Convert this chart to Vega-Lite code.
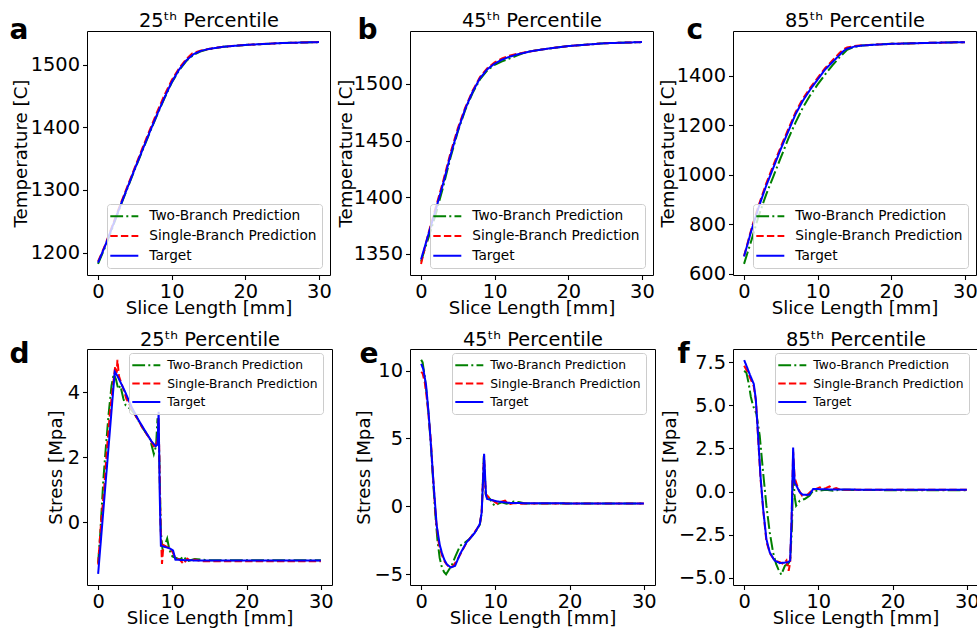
{
  "$schema": "https://vega.github.io/schema/vega-lite/v6.json",
  "background": "white",
  "padding": {"left": 8, "top": 9, "right": 0, "bottom": 0},
  "config": {
    "font": "DejaVu Sans",
    "view": {"stroke": "black", "strokeWidth": 1},
    "axis": {"labelFont": "DejaVu Sans", "labelFontSize": 19.4, "labelColor": "black", "titleFont": "DejaVu Sans", "titleFontSize": 18.2, "titleFontWeight": "normal", "titleColor": "black", "tickColor": "black", "tickSize": 4.5, "tickWidth": 1.1, "domain": false, "grid": false, "labelPadding": 3, "titlePadding": 4, "labelFlush": false, "labelOverlap": false},
    "axisLeft": {"titleBaseline": "middle"},
    "axisBottom": {"titlePadding": -1},
    "axisTop": {"labels": false, "ticks": false, "domain": false, "titleAngle": 0, "titleBaseline": "alphabetic", "titleAlign": "center", "titleFontSize": 19.4},
    "axisRight": {"labels": false, "ticks": false, "domain": false, "titleAngle": 0, "titleBaseline": "alphabetic", "titleAlign": "left", "titleFontSize": 28, "titleFontWeight": "bold"},
    "legend": {"labelFont": "DejaVu Sans", "labelColor": "black", "fillColor": "rgba(255,255,255,0.8)", "strokeColor": "#cccccc", "cornerRadius": 3, "padding": 5.3, "labelLimit": 400}
  },
  "datasets": {
    "a": [
      {"s":"Two","x":0,"y":1182},{"s":"Two","x":0.5,"y":1196},{"s":"Two","x":1,"y":1210},{"s":"Two","x":2,"y":1241},{"s":"Two","x":3,"y":1273},{"s":"Two","x":4,"y":1303},{"s":"Two","x":5,"y":1333},{"s":"Two","x":6,"y":1362},{"s":"Two","x":7,"y":1391},{"s":"Two","x":8,"y":1419},{"s":"Two","x":9,"y":1446},{"s":"Two","x":10,"y":1471},{"s":"Two","x":11,"y":1491},{"s":"Two","x":12,"y":1506},{"s":"Two","x":13,"y":1516},{"s":"Two","x":14,"y":1521.5},{"s":"Two","x":15,"y":1524.5},{"s":"Two","x":17,"y":1528.5},{"s":"Two","x":20,"y":1531.5},{"s":"Two","x":25,"y":1534.5},{"s":"Two","x":30,"y":1536},
      {"s":"Single","x":0,"y":1186},{"s":"Single","x":0.5,"y":1199},{"s":"Single","x":1,"y":1213},{"s":"Single","x":2,"y":1245},{"s":"Single","x":3,"y":1276},{"s":"Single","x":4,"y":1306},{"s":"Single","x":5,"y":1336},{"s":"Single","x":6,"y":1366},{"s":"Single","x":7,"y":1395},{"s":"Single","x":8,"y":1424},{"s":"Single","x":9,"y":1451},{"s":"Single","x":10,"y":1475},{"s":"Single","x":11,"y":1494},{"s":"Single","x":12,"y":1509},{"s":"Single","x":12.8,"y":1518},{"s":"Single","x":14,"y":1522.5},{"s":"Single","x":15,"y":1525},{"s":"Single","x":17,"y":1528.5},{"s":"Single","x":20,"y":1531.5},{"s":"Single","x":25,"y":1534.5},{"s":"Single","x":30,"y":1536},
      {"s":"Target","x":0,"y":1184},{"s":"Target","x":0.5,"y":1198},{"s":"Target","x":1,"y":1212},{"s":"Target","x":2,"y":1243},{"s":"Target","x":3,"y":1274},{"s":"Target","x":4,"y":1304},{"s":"Target","x":5,"y":1334},{"s":"Target","x":6,"y":1363},{"s":"Target","x":7,"y":1392},{"s":"Target","x":8,"y":1420},{"s":"Target","x":9,"y":1447},{"s":"Target","x":10,"y":1472},{"s":"Target","x":11,"y":1492},{"s":"Target","x":12,"y":1507},{"s":"Target","x":13,"y":1517},{"s":"Target","x":14,"y":1522},{"s":"Target","x":15,"y":1525},{"s":"Target","x":17,"y":1528.5},{"s":"Target","x":20,"y":1531.5},{"s":"Target","x":25,"y":1534.5},{"s":"Target","x":30,"y":1536}
    ],
    "b": [
      {"s":"Two","x":0,"y":1343},{"s":"Two","x":0.5,"y":1354},{"s":"Two","x":1,"y":1364},{"s":"Two","x":2,"y":1385},{"s":"Two","x":3,"y":1409},{"s":"Two","x":4,"y":1435},{"s":"Two","x":5,"y":1458},{"s":"Two","x":6,"y":1477},{"s":"Two","x":7,"y":1492},{"s":"Two","x":8,"y":1504},{"s":"Two","x":9,"y":1512},{"s":"Two","x":10,"y":1517},{"s":"Two","x":11,"y":1520},{"s":"Two","x":12,"y":1522.5},{"s":"Two","x":13,"y":1525},{"s":"Two","x":14,"y":1527.5},{"s":"Two","x":15,"y":1529},{"s":"Two","x":17,"y":1531},{"s":"Two","x":20,"y":1533.5},{"s":"Two","x":25,"y":1536},{"s":"Two","x":30,"y":1537},
      {"s":"Single","x":0,"y":1341},{"s":"Single","x":0.5,"y":1355},{"s":"Single","x":1,"y":1368},{"s":"Single","x":2,"y":1391},{"s":"Single","x":3,"y":1414},{"s":"Single","x":4,"y":1439},{"s":"Single","x":5,"y":1461},{"s":"Single","x":6,"y":1479},{"s":"Single","x":7,"y":1494},{"s":"Single","x":8,"y":1506},{"s":"Single","x":9,"y":1514},{"s":"Single","x":10,"y":1519},{"s":"Single","x":11,"y":1522.5},{"s":"Single","x":12,"y":1525},{"s":"Single","x":13,"y":1526.5},{"s":"Single","x":15,"y":1529},{"s":"Single","x":17,"y":1531},{"s":"Single","x":20,"y":1533.5},{"s":"Single","x":25,"y":1536},{"s":"Single","x":30,"y":1537},
      {"s":"Target","x":0,"y":1345},{"s":"Target","x":1,"y":1367},{"s":"Target","x":2,"y":1389},{"s":"Target","x":3,"y":1412},{"s":"Target","x":4,"y":1437},{"s":"Target","x":5,"y":1459},{"s":"Target","x":6,"y":1478},{"s":"Target","x":7,"y":1493},{"s":"Target","x":8,"y":1505},{"s":"Target","x":9,"y":1513},{"s":"Target","x":10,"y":1518},{"s":"Target","x":11,"y":1521.5},{"s":"Target","x":12,"y":1524},{"s":"Target","x":13,"y":1526},{"s":"Target","x":15,"y":1529},{"s":"Target","x":17,"y":1531},{"s":"Target","x":20,"y":1533.5},{"s":"Target","x":25,"y":1536},{"s":"Target","x":30,"y":1537}
    ],
    "c": [
      {"s":"Two","x":0,"y":640},{"s":"Two","x":0.5,"y":688},{"s":"Two","x":1,"y":735},{"s":"Two","x":2,"y":835},{"s":"Two","x":3,"y":920},{"s":"Two","x":4,"y":995},{"s":"Two","x":5,"y":1070},{"s":"Two","x":6,"y":1145},{"s":"Two","x":7,"y":1212},{"s":"Two","x":8,"y":1272},{"s":"Two","x":9,"y":1322},{"s":"Two","x":10,"y":1365},{"s":"Two","x":11,"y":1405},{"s":"Two","x":12,"y":1442},{"s":"Two","x":13,"y":1476},{"s":"Two","x":14,"y":1505},{"s":"Two","x":15,"y":1517},{"s":"Two","x":16,"y":1522},{"s":"Two","x":18,"y":1526},{"s":"Two","x":20,"y":1529},{"s":"Two","x":25,"y":1533},{"s":"Two","x":30,"y":1536},
      {"s":"Single","x":0,"y":672},{"s":"Single","x":0.5,"y":726},{"s":"Single","x":1,"y":781},{"s":"Single","x":2,"y":878},{"s":"Single","x":3,"y":964},{"s":"Single","x":4,"y":1040},{"s":"Single","x":5,"y":1114},{"s":"Single","x":6,"y":1184},{"s":"Single","x":7,"y":1253},{"s":"Single","x":8,"y":1308},{"s":"Single","x":9,"y":1352},{"s":"Single","x":10,"y":1392},{"s":"Single","x":11,"y":1431},{"s":"Single","x":12,"y":1462},{"s":"Single","x":13,"y":1493},{"s":"Single","x":13.5,"y":1507},{"s":"Single","x":14,"y":1514},{"s":"Single","x":15,"y":1520},{"s":"Single","x":16,"y":1523},{"s":"Single","x":18,"y":1526},{"s":"Single","x":20,"y":1529},{"s":"Single","x":25,"y":1533},{"s":"Single","x":30,"y":1536},
      {"s":"Target","x":0,"y":670},{"s":"Target","x":0.5,"y":722},{"s":"Target","x":1,"y":775},{"s":"Target","x":2,"y":870},{"s":"Target","x":3,"y":955},{"s":"Target","x":4,"y":1030},{"s":"Target","x":5,"y":1105},{"s":"Target","x":6,"y":1175},{"s":"Target","x":7,"y":1245},{"s":"Target","x":8,"y":1300},{"s":"Target","x":9,"y":1345},{"s":"Target","x":10,"y":1385},{"s":"Target","x":11,"y":1425},{"s":"Target","x":12,"y":1455},{"s":"Target","x":13,"y":1485},{"s":"Target","x":13.5,"y":1500},{"s":"Target","x":14,"y":1510},{"s":"Target","x":15,"y":1518},{"s":"Target","x":16,"y":1522},{"s":"Target","x":18,"y":1526},{"s":"Target","x":20,"y":1529},{"s":"Target","x":25,"y":1533},{"s":"Target","x":30,"y":1536}
    ],
    "d": [
      {"s":"Two","x":0,"y":-1.25},{"s":"Two","x":0.3,"y":-0.3},{"s":"Two","x":0.7,"y":1.3},{"s":"Two","x":1.0,"y":2.2},{"s":"Two","x":1.4,"y":3.3},{"s":"Two","x":1.8,"y":4.2},{"s":"Two","x":2.1,"y":4.56},{"s":"Two","x":2.4,"y":4.4},{"s":"Two","x":2.7,"y":4.1},{"s":"Two","x":3.0,"y":4.2},{"s":"Two","x":3.4,"y":3.8},{"s":"Two","x":3.7,"y":3.6},{"s":"Two","x":4.0,"y":3.55},{"s":"Two","x":4.5,"y":3.45},{"s":"Two","x":5.0,"y":3.3},{"s":"Two","x":6.0,"y":2.9},{"s":"Two","x":7.0,"y":2.55},{"s":"Two","x":7.5,"y":2.1},{"s":"Two","x":7.8,"y":2.35},{"s":"Two","x":8.0,"y":3.2},{"s":"Two","x":8.2,"y":2.4},{"s":"Two","x":8.45,"y":-0.3},{"s":"Two","x":8.7,"y":-0.9},{"s":"Two","x":9.0,"y":-0.7},{"s":"Two","x":9.3,"y":-0.5},{"s":"Two","x":9.6,"y":-0.85},{"s":"Two","x":10.0,"y":-1.05},{"s":"Two","x":10.5,"y":-1.1},{"s":"Two","x":11.0,"y":-1.15},{"s":"Two","x":11.5,"y":-1.05},{"s":"Two","x":12.0,"y":-1.2},{"s":"Two","x":13,"y":-1.13},{"s":"Two","x":15,"y":-1.17},{"s":"Two","x":20,"y":-1.17},{"s":"Two","x":30,"y":-1.17},
      {"s":"Single","x":0,"y":-1.3},{"s":"Single","x":0.4,"y":0.0},{"s":"Single","x":0.8,"y":1.0},{"s":"Single","x":1.2,"y":2.3},{"s":"Single","x":1.6,"y":3.4},{"s":"Single","x":2.0,"y":4.2},{"s":"Single","x":2.3,"y":4.8},{"s":"Single","x":2.5,"y":4.6},{"s":"Single","x":2.6,"y":5.0},{"s":"Single","x":2.8,"y":4.5},{"s":"Single","x":3.1,"y":4.3},{"s":"Single","x":3.4,"y":4.1},{"s":"Single","x":3.8,"y":3.8},{"s":"Single","x":4.3,"y":3.6},{"s":"Single","x":5.0,"y":3.3},{"s":"Single","x":6.0,"y":2.9},{"s":"Single","x":7.0,"y":2.55},{"s":"Single","x":7.6,"y":2.3},{"s":"Single","x":8.0,"y":2.5},{"s":"Single","x":8.15,"y":3.2},{"s":"Single","x":8.4,"y":0.0},{"s":"Single","x":8.6,"y":-1.28},{"s":"Single","x":8.8,"y":-0.7},{"s":"Single","x":9.2,"y":-0.75},{"s":"Single","x":9.6,"y":-0.8},{"s":"Single","x":10.0,"y":-0.9},{"s":"Single","x":10.4,"y":-1.1},{"s":"Single","x":11.0,"y":-1.15},{"s":"Single","x":11.5,"y":-1.28},{"s":"Single","x":12.0,"y":-1.12},{"s":"Single","x":12.5,"y":-1.2},{"s":"Single","x":13.0,"y":-1.15},{"s":"Single","x":14,"y":-1.2},{"s":"Single","x":20,"y":-1.2},{"s":"Single","x":30,"y":-1.2},
      {"s":"Target","x":0,"y":-1.59},{"s":"Target","x":0.5,"y":-0.2},{"s":"Target","x":1.0,"y":1.19},{"s":"Target","x":1.5,"y":2.58},{"s":"Target","x":2.0,"y":3.97},{"s":"Target","x":2.24,"y":4.63},{"s":"Target","x":2.6,"y":4.5},{"s":"Target","x":3.6,"y":4.03},{"s":"Target","x":4.5,"y":3.55},{"s":"Target","x":5.4,"y":3.16},{"s":"Target","x":6.3,"y":2.82},{"s":"Target","x":7.2,"y":2.49},{"s":"Target","x":7.76,"y":2.34},{"s":"Target","x":8.0,"y":2.39},{"s":"Target","x":8.15,"y":3.4},{"s":"Target","x":8.3,"y":0.8},{"s":"Target","x":8.45,"y":-0.72},{"s":"Target","x":9.0,"y":-0.76},{"s":"Target","x":9.6,"y":-0.8},{"s":"Target","x":10.1,"y":-0.87},{"s":"Target","x":10.4,"y":-1.15},{"s":"Target","x":12,"y":-1.17},{"s":"Target","x":15,"y":-1.18},{"s":"Target","x":20,"y":-1.18},{"s":"Target","x":30,"y":-1.18}
    ],
    "e": [
      {"s":"Two","x":0.0,"y":10.8},{"s":"Two","x":0.2,"y":10.6},{"s":"Two","x":0.5,"y":9.5},{"s":"Two","x":0.8,"y":8.0},{"s":"Two","x":1.0,"y":6.8},{"s":"Two","x":1.3,"y":4.6},{"s":"Two","x":1.6,"y":2.0},{"s":"Two","x":1.9,"y":-0.5},{"s":"Two","x":2.2,"y":-2.5},{"s":"Two","x":2.5,"y":-3.8},{"s":"Two","x":2.8,"y":-4.5},{"s":"Two","x":3.1,"y":-4.85},{"s":"Two","x":3.36,"y":-5.0},{"s":"Two","x":3.7,"y":-4.7},{"s":"Two","x":4.1,"y":-4.38},{"s":"Two","x":4.6,"y":-3.7},{"s":"Two","x":5.25,"y":-2.9},{"s":"Two","x":5.9,"y":-2.66},{"s":"Two","x":6.5,"y":-2.4},{"s":"Two","x":7.3,"y":-1.9},{"s":"Two","x":7.9,"y":-1.35},{"s":"Two","x":8.15,"y":-0.5},{"s":"Two","x":8.45,"y":3.7},{"s":"Two","x":8.7,"y":0.9},{"s":"Two","x":9.0,"y":0.7},{"s":"Two","x":9.3,"y":0.54},{"s":"Two","x":9.6,"y":0.2},{"s":"Two","x":9.95,"y":0.05},{"s":"Two","x":10.4,"y":0.2},{"s":"Two","x":10.85,"y":0.3},{"s":"Two","x":11.5,"y":0.2},{"s":"Two","x":12.5,"y":0.35},{"s":"Two","x":13.3,"y":0.3},{"s":"Two","x":14,"y":0.22},{"s":"Two","x":20,"y":0.22},{"s":"Two","x":30,"y":0.22},
      {"s":"Single","x":0.0,"y":9.9},{"s":"Single","x":0.2,"y":9.8},{"s":"Single","x":0.5,"y":9.1},{"s":"Single","x":0.8,"y":7.8},{"s":"Single","x":1.0,"y":6.7},{"s":"Single","x":1.3,"y":4.9},{"s":"Single","x":1.6,"y":2.2},{"s":"Single","x":2.0,"y":-1.0},{"s":"Single","x":2.4,"y":-2.8},{"s":"Single","x":2.8,"y":-3.6},{"s":"Single","x":3.2,"y":-4.1},{"s":"Single","x":3.8,"y":-4.5},{"s":"Single","x":4.3,"y":-4.4},{"s":"Single","x":4.8,"y":-4.0},{"s":"Single","x":5.4,"y":-3.4},{"s":"Single","x":6.1,"y":-2.7},{"s":"Single","x":7.2,"y":-1.9},{"s":"Single","x":7.9,"y":-1.35},{"s":"Single","x":8.15,"y":-0.4},{"s":"Single","x":8.47,"y":3.8},{"s":"Single","x":8.7,"y":0.9},{"s":"Single","x":8.9,"y":0.79},{"s":"Single","x":9.3,"y":0.55},{"s":"Single","x":9.7,"y":0.42},{"s":"Single","x":10.0,"y":0.3},{"s":"Single","x":10.4,"y":0.17},{"s":"Single","x":10.8,"y":0.35},{"s":"Single","x":11.3,"y":0.42},{"s":"Single","x":11.7,"y":0.2},{"s":"Single","x":12.0,"y":0.17},{"s":"Single","x":12.5,"y":0.25},{"s":"Single","x":13.5,"y":0.2},{"s":"Single","x":14,"y":0.22},{"s":"Single","x":20,"y":0.22},{"s":"Single","x":30,"y":0.22},
      {"s":"Target","x":0.0,"y":10.5},{"s":"Target","x":0.3,"y":10.1},{"s":"Target","x":0.67,"y":8.9},{"s":"Target","x":1.0,"y":6.9},{"s":"Target","x":1.2,"y":5.47},{"s":"Target","x":1.66,"y":1.77},{"s":"Target","x":2.1,"y":-1.43},{"s":"Target","x":2.5,"y":-2.8},{"s":"Target","x":2.78,"y":-3.4},{"s":"Target","x":3.1,"y":-3.9},{"s":"Target","x":3.45,"y":-4.26},{"s":"Target","x":4.0,"y":-4.5},{"s":"Target","x":4.57,"y":-4.38},{"s":"Target","x":5.25,"y":-3.5},{"s":"Target","x":6.1,"y":-2.66},{"s":"Target","x":7.26,"y":-1.92},{"s":"Target","x":7.9,"y":-1.3},{"s":"Target","x":8.16,"y":-0.44},{"s":"Target","x":8.48,"y":3.87},{"s":"Target","x":8.74,"y":0.79},{"s":"Target","x":8.9,"y":0.54},{"s":"Target","x":10.2,"y":0.37},{"s":"Target","x":12,"y":0.25},{"s":"Target","x":15,"y":0.23},{"s":"Target","x":20,"y":0.22},{"s":"Target","x":30,"y":0.22}
    ],
    "f": [
      {"s":"Two","x":0.0,"y":7.0},{"s":"Two","x":0.3,"y":6.9},{"s":"Two","x":0.6,"y":6.3},{"s":"Two","x":0.9,"y":5.5},{"s":"Two","x":1.2,"y":4.98},{"s":"Two","x":1.66,"y":4.5},{"s":"Two","x":2.1,"y":3.24},{"s":"Two","x":2.56,"y":1.1},{"s":"Two","x":3.0,"y":-0.82},{"s":"Two","x":3.45,"y":-2.37},{"s":"Two","x":3.9,"y":-3.53},{"s":"Two","x":4.3,"y":-4.2},{"s":"Two","x":4.6,"y":-4.5},{"s":"Two","x":5.0,"y":-4.82},{"s":"Two","x":5.5,"y":-4.3},{"s":"Two","x":5.9,"y":-4.2},{"s":"Two","x":6.2,"y":-4.0},{"s":"Two","x":6.45,"y":-2.0},{"s":"Two","x":6.6,"y":1.2},{"s":"Two","x":6.8,"y":-0.3},{"s":"Two","x":7.0,"y":-0.82},{"s":"Two","x":7.5,"y":-0.53},{"s":"Two","x":8.15,"y":-0.43},{"s":"Two","x":8.8,"y":-0.24},{"s":"Two","x":9.3,"y":0.05},{"s":"Two","x":10,"y":0.05},{"s":"Two","x":11,"y":0.1},{"s":"Two","x":12,"y":0.05},{"s":"Two","x":13,"y":0.1},{"s":"Two","x":20,"y":0.08},{"s":"Two","x":30,"y":0.08},
      {"s":"Single","x":0.0,"y":7.3},{"s":"Single","x":0.4,"y":7.0},{"s":"Single","x":0.8,"y":6.6},{"s":"Single","x":1.3,"y":6.1},{"s":"Single","x":1.6,"y":5.2},{"s":"Single","x":1.9,"y":3.0},{"s":"Single","x":2.2,"y":0.8},{"s":"Single","x":2.6,"y":-1.2},{"s":"Single","x":3.0,"y":-2.9},{"s":"Single","x":3.5,"y":-3.6},{"s":"Single","x":4.1,"y":-4.0},{"s":"Single","x":4.8,"y":-4.1},{"s":"Single","x":5.3,"y":-4.2},{"s":"Single","x":5.7,"y":-4.0},{"s":"Single","x":6.0,"y":-4.6},{"s":"Single","x":6.2,"y":-4.1},{"s":"Single","x":6.4,"y":-1.5},{"s":"Single","x":6.6,"y":2.3},{"s":"Single","x":6.8,"y":0.8},{"s":"Single","x":7.1,"y":0.4},{"s":"Single","x":7.3,"y":0.15},{"s":"Single","x":7.8,"y":-0.24},{"s":"Single","x":8.5,"y":-0.2},{"s":"Single","x":9.2,"y":0.1},{"s":"Single","x":9.7,"y":0.15},{"s":"Single","x":10.2,"y":0.24},{"s":"Single","x":10.6,"y":0.15},{"s":"Single","x":11.0,"y":0.2},{"s":"Single","x":11.5,"y":0.3},{"s":"Single","x":12,"y":0.15},{"s":"Single","x":12.4,"y":0.2},{"s":"Single","x":13.0,"y":0.1},{"s":"Single","x":20,"y":0.1},{"s":"Single","x":30,"y":0.1},
      {"s":"Target","x":0.0,"y":7.63},{"s":"Target","x":0.4,"y":7.2},{"s":"Target","x":0.76,"y":6.8},{"s":"Target","x":1.3,"y":6.24},{"s":"Target","x":1.57,"y":5.37},{"s":"Target","x":1.88,"y":3.24},{"s":"Target","x":2.2,"y":0.92},{"s":"Target","x":2.56,"y":-1.0},{"s":"Target","x":3.0,"y":-2.76},{"s":"Target","x":3.45,"y":-3.53},{"s":"Target","x":4.1,"y":-4.0},{"s":"Target","x":4.8,"y":-4.15},{"s":"Target","x":5.9,"y":-4.1},{"s":"Target","x":6.2,"y":-4.0},{"s":"Target","x":6.4,"y":-1.5},{"s":"Target","x":6.6,"y":2.56},{"s":"Target","x":6.8,"y":0.53},{"s":"Target","x":7.04,"y":0.34},{"s":"Target","x":7.5,"y":-0.05},{"s":"Target","x":7.9,"y":-0.18},{"s":"Target","x":8.8,"y":-0.18},{"s":"Target","x":9.15,"y":0.05},{"s":"Target","x":9.3,"y":0.15},{"s":"Target","x":12,"y":0.12},{"s":"Target","x":20,"y":0.1},{"s":"Target","x":30,"y":0.1}
    ]
  },
  "columns": 3,
  "spacing": {"row": 74, "column": 78},
  "bounds": "flush",
  "resolve": {"scale": {"x": "independent", "y": "independent", "color": "independent", "strokeDash": "independent"}, "legend": {"color": "independent", "strokeDash": "independent"}},
  "concat": [
    {
      "width": 243, "height": 244,
      "data": {"name": "a"},
      "layer": [
        {"mark": {"type": "line", "strokeWidth": 2, "clip": true},
         "encoding": {
           "x": {"field": "x", "type": "quantitative", "scale": {"domain": [-1.5, 31.5], "nice": false, "zero": false}, "axis": {"values": [0, 10, 20, 30], "title": "Slice Length [mm]"}},
           "y": {"field": "y", "type": "quantitative", "scale": {"domain": [1164.3, 1553.7], "nice": false, "zero": false}, "axis": {"values": [1200, 1300, 1400, 1500], "format": "d", "title": "Temperature [C]", "titleX": -66}},
           "color": {"field": "s", "type": "nominal", "scale": {"domain": ["Two", "Single", "Target"], "range": ["#008000", "#ff0000", "#0000ff"]}, "legend": {"title": null, "orient": "none", "legendX": 20, "legendY": 173, "labelFontSize": 13.7, "labelOffset": 23, "rowPadding": 5.7, "symbolType": "M-1.5,0H3.17", "symbolSize": 144, "symbolStrokeWidth": 2, "labelExpr": "datum.value == 'Two' ? 'Two-Branch Prediction' : datum.value == 'Single' ? 'Single-Branch Prediction' : 'Target'"}},
           "strokeDash": {"field": "s", "type": "nominal", "scale": {"domain": ["Two", "Single", "Target"], "range": [[12.8, 3.2, 2, 3.2], [7.4, 3.2], [1, 0]]}, "legend": {"title": null, "orient": "none", "legendX": 20, "legendY": 173, "labelFontSize": 13.7, "labelOffset": 23, "rowPadding": 5.7, "symbolType": "M-1.5,0H3.17", "symbolSize": 144, "symbolStrokeWidth": 2, "labelExpr": "datum.value == 'Two' ? 'Two-Branch Prediction' : datum.value == 'Single' ? 'Single-Branch Prediction' : 'Target'"}}
         }},
        {"mark": {"type": "point", "opacity": 0},
         "encoding": {
           "x": {"field": "x", "type": "quantitative", "axis": {"orient": "top", "title": "25ᵗʰ Percentile", "titleX": 121.5, "titleY": -5}},
           "y": {"field": "y", "type": "quantitative", "axis": {"orient": "right", "title": "a", "titleX": -321, "titleY": 7}}
         }}
      ],
      "resolve": {"axis": {"x": "independent", "y": "independent"}}
    },
    {
      "width": 243, "height": 244,
      "data": {"name": "b"},
      "layer": [
        {"mark": {"type": "line", "strokeWidth": 2, "clip": true},
         "encoding": {
           "x": {"field": "x", "type": "quantitative", "scale": {"domain": [-1.5, 31.5], "nice": false, "zero": false}, "axis": {"values": [0, 10, 20, 30], "title": "Slice Length [mm]"}},
           "y": {"field": "y", "type": "quantitative", "scale": {"domain": [1331.2, 1546.8], "nice": false, "zero": false}, "axis": {"values": [1350, 1400, 1450, 1500], "format": "d", "title": "Temperature [C]", "titleX": -64}},
           "color": {"field": "s", "type": "nominal", "scale": {"domain": ["Two", "Single", "Target"], "range": ["#008000", "#ff0000", "#0000ff"]}, "legend": {"title": null, "orient": "none", "legendX": 20, "legendY": 173, "labelFontSize": 13.7, "labelOffset": 23, "rowPadding": 5.7, "symbolType": "M-1.5,0H3.17", "symbolSize": 144, "symbolStrokeWidth": 2, "labelExpr": "datum.value == 'Two' ? 'Two-Branch Prediction' : datum.value == 'Single' ? 'Single-Branch Prediction' : 'Target'"}},
           "strokeDash": {"field": "s", "type": "nominal", "scale": {"domain": ["Two", "Single", "Target"], "range": [[12.8, 3.2, 2, 3.2], [7.4, 3.2], [1, 0]]}, "legend": {"title": null, "orient": "none", "legendX": 20, "legendY": 173, "labelFontSize": 13.7, "labelOffset": 23, "rowPadding": 5.7, "symbolType": "M-1.5,0H3.17", "symbolSize": 144, "symbolStrokeWidth": 2, "labelExpr": "datum.value == 'Two' ? 'Two-Branch Prediction' : datum.value == 'Single' ? 'Single-Branch Prediction' : 'Target'"}}
         }},
        {"mark": {"type": "point", "opacity": 0},
         "encoding": {
           "x": {"field": "x", "type": "quantitative", "axis": {"orient": "top", "title": "45ᵗʰ Percentile", "titleX": 121.5, "titleY": -5}},
           "y": {"field": "y", "type": "quantitative", "axis": {"orient": "right", "title": "b", "titleX": -296, "titleY": 7}}
         }}
      ],
      "resolve": {"axis": {"x": "independent", "y": "independent"}}
    },
    {
      "width": 243, "height": 244,
      "data": {"name": "c"},
      "layer": [
        {"mark": {"type": "line", "strokeWidth": 2, "clip": true},
         "encoding": {
           "x": {"field": "x", "type": "quantitative", "scale": {"domain": [-1.5, 31.5], "nice": false, "zero": false}, "axis": {"values": [0, 10, 20, 30], "title": "Slice Length [mm]"}},
           "y": {"field": "y", "type": "quantitative", "scale": {"domain": [595, 1581], "nice": false, "zero": false}, "axis": {"values": [600, 800, 1000, 1200, 1400], "format": "d", "title": "Temperature [C]", "titleX": -64.5}},
           "color": {"field": "s", "type": "nominal", "scale": {"domain": ["Two", "Single", "Target"], "range": ["#008000", "#ff0000", "#0000ff"]}, "legend": {"title": null, "orient": "none", "legendX": 20, "legendY": 173, "labelFontSize": 13.7, "labelOffset": 23, "rowPadding": 5.7, "symbolType": "M-1.5,0H3.17", "symbolSize": 144, "symbolStrokeWidth": 2, "labelExpr": "datum.value == 'Two' ? 'Two-Branch Prediction' : datum.value == 'Single' ? 'Single-Branch Prediction' : 'Target'"}},
           "strokeDash": {"field": "s", "type": "nominal", "scale": {"domain": ["Two", "Single", "Target"], "range": [[12.8, 3.2, 2, 3.2], [7.4, 3.2], [1, 0]]}, "legend": {"title": null, "orient": "none", "legendX": 20, "legendY": 173, "labelFontSize": 13.7, "labelOffset": 23, "rowPadding": 5.7, "symbolType": "M-1.5,0H3.17", "symbolSize": 144, "symbolStrokeWidth": 2, "labelExpr": "datum.value == 'Two' ? 'Two-Branch Prediction' : datum.value == 'Single' ? 'Single-Branch Prediction' : 'Target'"}}
         }},
        {"mark": {"type": "point", "opacity": 0},
         "encoding": {
           "x": {"field": "x", "type": "quantitative", "axis": {"orient": "top", "title": "85ᵗʰ Percentile", "titleX": 121.5, "titleY": -5}},
           "y": {"field": "y", "type": "quantitative", "axis": {"orient": "right", "title": "c", "titleX": -290, "titleY": 7}}
         }}
      ],
      "resolve": {"axis": {"x": "independent", "y": "independent"}}
    },
    {
      "width": 245, "height": 236,
      "data": {"name": "d"},
      "layer": [
        {"mark": {"type": "line", "strokeWidth": 2, "clip": true},
         "encoding": {
           "x": {"field": "x", "type": "quantitative", "scale": {"domain": [-1.5, 31.5], "nice": false, "zero": false}, "axis": {"values": [0, 10, 20, 30], "title": "Slice Length [mm]"}},
           "y": {"field": "y", "type": "quantitative", "scale": {"domain": [-1.93, 5.33], "nice": false, "zero": false}, "axis": {"values": [0, 2, 4], "title": "Stress [Mpa]", "titleX": -30.5}},
           "color": {"field": "s", "type": "nominal", "scale": {"domain": ["Two", "Single", "Target"], "range": ["#008000", "#ff0000", "#0000ff"]}, "legend": {"title": null, "orient": "none", "legendX": 42, "legendY": 4, "labelFontSize": 12.3, "labelOffset": 19, "rowPadding": 4.3, "symbolType": "M-1.5,0H3.17", "symbolSize": 144, "symbolStrokeWidth": 2, "labelExpr": "datum.value == 'Two' ? 'Two-Branch Prediction' : datum.value == 'Single' ? 'Single-Branch Prediction' : 'Target'"}},
           "strokeDash": {"field": "s", "type": "nominal", "scale": {"domain": ["Two", "Single", "Target"], "range": [[12.8, 3.2, 2, 3.2], [7.4, 3.2], [1, 0]]}, "legend": {"title": null, "orient": "none", "legendX": 42, "legendY": 4, "labelFontSize": 12.3, "labelOffset": 19, "rowPadding": 4.3, "symbolType": "M-1.5,0H3.17", "symbolSize": 144, "symbolStrokeWidth": 2, "labelExpr": "datum.value == 'Two' ? 'Two-Branch Prediction' : datum.value == 'Single' ? 'Single-Branch Prediction' : 'Target'"}}
         }},
        {"mark": {"type": "point", "opacity": 0},
         "encoding": {
           "x": {"field": "x", "type": "quantitative", "axis": {"orient": "top", "title": "25ᵗʰ Percentile", "titleX": 122.5, "titleY": -4}},
           "y": {"field": "y", "type": "quantitative", "axis": {"orient": "right", "title": "d", "titleX": -323, "titleY": 13}}
         }}
      ],
      "resolve": {"axis": {"x": "independent", "y": "independent"}}
    },
    {
      "width": 245, "height": 236,
      "data": {"name": "e"},
      "layer": [
        {"mark": {"type": "line", "strokeWidth": 2, "clip": true},
         "encoding": {
           "x": {"field": "x", "type": "quantitative", "scale": {"domain": [-1.5, 31.5], "nice": false, "zero": false}, "axis": {"values": [0, 10, 20, 30], "title": "Slice Length [mm]"}},
           "y": {"field": "y", "type": "quantitative", "scale": {"domain": [-5.79, 11.59], "nice": false, "zero": false}, "axis": {"values": [-5, 0, 5, 10], "title": "Stress [Mpa]", "titleX": -45.5}},
           "color": {"field": "s", "type": "nominal", "scale": {"domain": ["Two", "Single", "Target"], "range": ["#008000", "#ff0000", "#0000ff"]}, "legend": {"title": null, "orient": "none", "legendX": 42, "legendY": 4, "labelFontSize": 12.3, "labelOffset": 19, "rowPadding": 4.3, "symbolType": "M-1.5,0H3.17", "symbolSize": 144, "symbolStrokeWidth": 2, "labelExpr": "datum.value == 'Two' ? 'Two-Branch Prediction' : datum.value == 'Single' ? 'Single-Branch Prediction' : 'Target'"}},
           "strokeDash": {"field": "s", "type": "nominal", "scale": {"domain": ["Two", "Single", "Target"], "range": [[12.8, 3.2, 2, 3.2], [7.4, 3.2], [1, 0]]}, "legend": {"title": null, "orient": "none", "legendX": 42, "legendY": 4, "labelFontSize": 12.3, "labelOffset": 19, "rowPadding": 4.3, "symbolType": "M-1.5,0H3.17", "symbolSize": 144, "symbolStrokeWidth": 2, "labelExpr": "datum.value == 'Two' ? 'Two-Branch Prediction' : datum.value == 'Single' ? 'Single-Branch Prediction' : 'Target'"}}
         }},
        {"mark": {"type": "point", "opacity": 0},
         "encoding": {
           "x": {"field": "x", "type": "quantitative", "axis": {"orient": "top", "title": "45ᵗʰ Percentile", "titleX": 122.5, "titleY": -4}},
           "y": {"field": "y", "type": "quantitative", "axis": {"orient": "right", "title": "e", "titleX": -296, "titleY": 13}}
         }}
      ],
      "resolve": {"axis": {"x": "independent", "y": "independent"}}
    },
    {
      "width": 245, "height": 236,
      "data": {"name": "f"},
      "layer": [
        {"mark": {"type": "line", "strokeWidth": 2, "clip": true},
         "encoding": {
           "x": {"field": "x", "type": "quantitative", "scale": {"domain": [-1.5, 31.5], "nice": false, "zero": false}, "axis": {"values": [0, 10, 20, 30], "title": "Slice Length [mm]"}},
           "y": {"field": "y", "type": "quantitative", "scale": {"domain": [-5.42, 8.27], "nice": false, "zero": false}, "axis": {"values": [-5, -2.5, 0, 2.5, 5, 7.5], "format": ".1f", "title": "Stress [Mpa]", "titleX": -62.5}},
           "color": {"field": "s", "type": "nominal", "scale": {"domain": ["Two", "Single", "Target"], "range": ["#008000", "#ff0000", "#0000ff"]}, "legend": {"title": null, "orient": "none", "legendX": 42, "legendY": 4, "labelFontSize": 12.3, "labelOffset": 19, "rowPadding": 4.3, "symbolType": "M-1.5,0H3.17", "symbolSize": 144, "symbolStrokeWidth": 2, "labelExpr": "datum.value == 'Two' ? 'Two-Branch Prediction' : datum.value == 'Single' ? 'Single-Branch Prediction' : 'Target'"}},
           "strokeDash": {"field": "s", "type": "nominal", "scale": {"domain": ["Two", "Single", "Target"], "range": [[12.8, 3.2, 2, 3.2], [7.4, 3.2], [1, 0]]}, "legend": {"title": null, "orient": "none", "legendX": 42, "legendY": 4, "labelFontSize": 12.3, "labelOffset": 19, "rowPadding": 4.3, "symbolType": "M-1.5,0H3.17", "symbolSize": 144, "symbolStrokeWidth": 2, "labelExpr": "datum.value == 'Two' ? 'Two-Branch Prediction' : datum.value == 'Single' ? 'Single-Branch Prediction' : 'Target'"}}
         }},
        {"mark": {"type": "point", "opacity": 0},
         "encoding": {
           "x": {"field": "x", "type": "quantitative", "axis": {"orient": "top", "title": "85ᵗʰ Percentile", "titleX": 122.5, "titleY": -4}},
           "y": {"field": "y", "type": "quantitative", "axis": {"orient": "right", "title": "f", "titleX": -301, "titleY": 13}}
         }}
      ],
      "resolve": {"axis": {"x": "independent", "y": "independent"}}
    }
  ]
}
